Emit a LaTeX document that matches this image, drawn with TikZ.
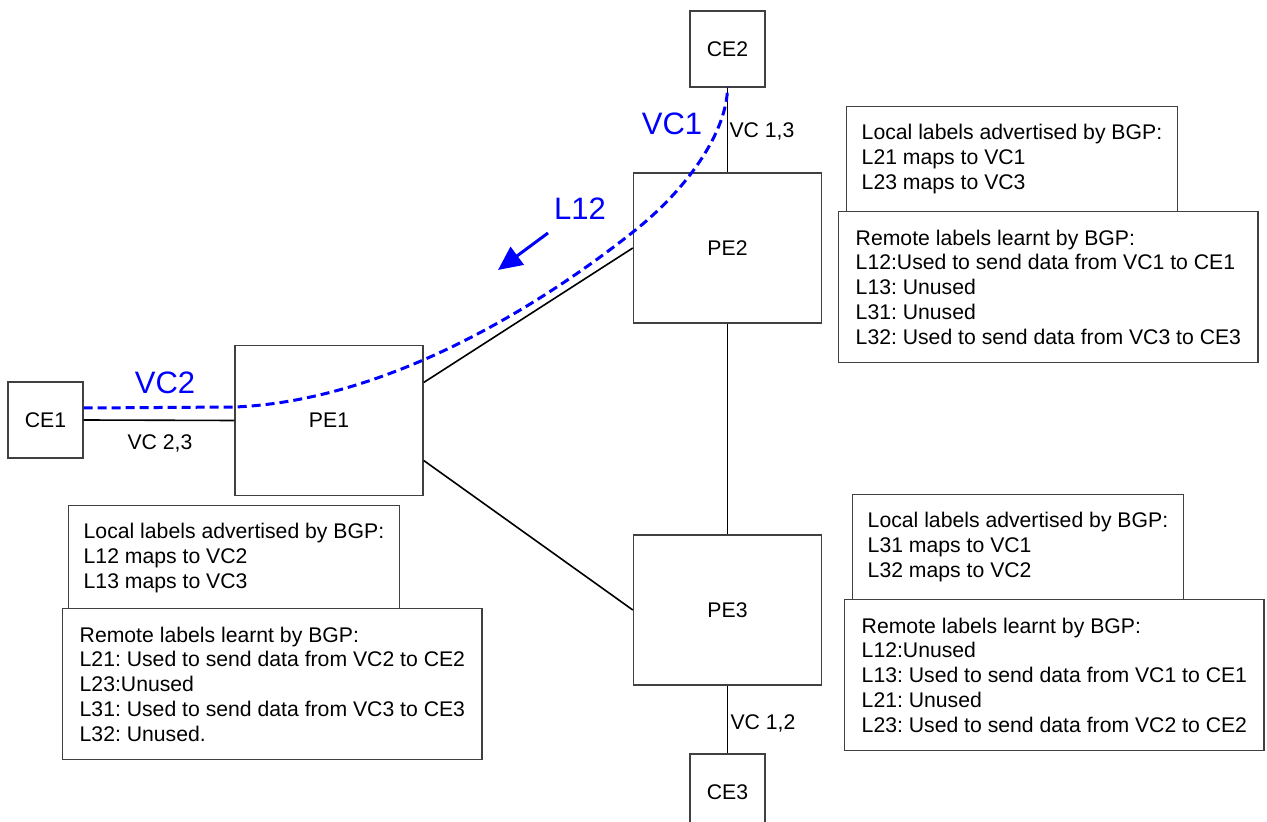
\documentclass[tikz,border=0pt]{standalone}
\usepackage{fontspec}
\setmainfont{Liberation Sans}
\usetikzlibrary{arrows.meta,calc}
\definecolor{vcblue}{RGB}{0,0,255}
\frenchspacing
\begin{document}
\begin{tikzpicture}[x=0.5pt,y=-0.5pt,
  every node/.style={font=\fontsize{10.6}{12.4}\selectfont},
  ce/.style={draw=black!75, line width=0.7pt, minimum width=37.5pt, minimum height=38pt, inner sep=0pt},
  pe/.style={draw=black!75, line width=0.7pt, minimum width=94pt, minimum height=75pt, inner sep=0pt},
  link/.style={draw=black, line width=0.8pt},
  localbox/.style={draw=black!75, line width=0.7pt, fill=white, align=left, anchor=north west, inner xsep=7.5pt, minimum height=52.5pt},
  remotebox/.style={draw=black!75, line width=0.7pt, fill=white, align=left, anchor=north west, inner xsep=8.5pt, minimum height=75.5pt},
  vcpath/.style={draw=vcblue, line width=1.5pt, dash pattern=on 4.5pt off 2.5pt},
  bluelbl/.style={text=vcblue, font=\fontsize{15.5}{18}\selectfont}
]
\useasboundingbox (0,0) rectangle (1267,822);

% routers
\node[ce] (CE2) at (727.5,49) {CE2};
\node[pe] (PE2) at (727.5,248) {PE2};
\node[pe] (PE3) at (727.5,610) {PE3};
\node[ce] (CE3) at (727.5,792) {CE3};
\node[ce] (CE1) at (45.5,420) {CE1};
\node[pe] (PE1) at (329,420.5) {PE1};

% links
\draw[link] (CE1.east) -- (PE1.west);
\draw[link] (CE2.south) -- (PE2.north);
\draw[link] (PE2.south) -- (PE3.north);
\draw[link] (PE3.south) -- (CE3.north);
\draw[link] ($(PE1.east)+(0,-38)$) -- (PE2.west);
\draw[link] ($(PE1.east)+(0,40)$) -- (PE3.west);

% link labels
\node (v23) at (160,443) {VC 2,3};
\node (v13) at (762,131) {VC 1,3};
\node (v12) at (763,723) {VC 1,2};

% label boxes
\node[localbox] (loc2) at (846,106) {Local labels advertised by BGP:\\L21 maps to VC1\\L23 maps to VC3};
\node[remotebox] (rem2) at (838,211) {Remote labels learnt by BGP:\\L12:Used to send data from VC1 to CE1\\L13: Unused\\L31: Unused\\L32: Used to send data from VC3 to CE3};
\node[localbox] (loc1) at (68,505) {Local labels advertised by BGP:\\L12 maps to VC2\\L13 maps to VC3};
\node[remotebox] (rem1) at (62,608) {Remote labels learnt by BGP:\\L21: Used to send data from VC2 to CE2\\L23:Unused\\L31: Used to send data from VC3 to CE3\\L32: Unused.};
\node[localbox] (loc3) at (852,494) {Local labels advertised by BGP:\\L31 maps to VC1\\L32 maps to VC2};
\node[remotebox] (rem3) at (844,599) {Remote labels learnt by BGP:\\L12:Unused\\L13: Used to send data from VC1 to CE1\\L21: Unused\\L23: Used to send data from VC2 to CE2};

% blue virtual circuit path
\coordinate (c1) at (235,407);
\coordinate (c2) at (633,232);
\draw[vcpath] ($(CE1.east)+(0,-12)$) -- (c1) .. controls (400,400) and (560,290) .. (c2) .. controls (690,187) and (727,130) .. (CE2.south);

% arrow and blue labels
\coordinate (a1) at (548,233);
\coordinate (a2) at (498,270);
\draw[vcblue, line width=1.5pt, -{Triangle[length=12pt,width=11pt]}] (a1) -- (a2);
\node[bluelbl] (l12) at (580,209) {L12};
\node[bluelbl] (vc1) at (672,124) {VC1};
\node[bluelbl] (vc2) at (165,383) {VC2};
\end{tikzpicture}
\end{document}
